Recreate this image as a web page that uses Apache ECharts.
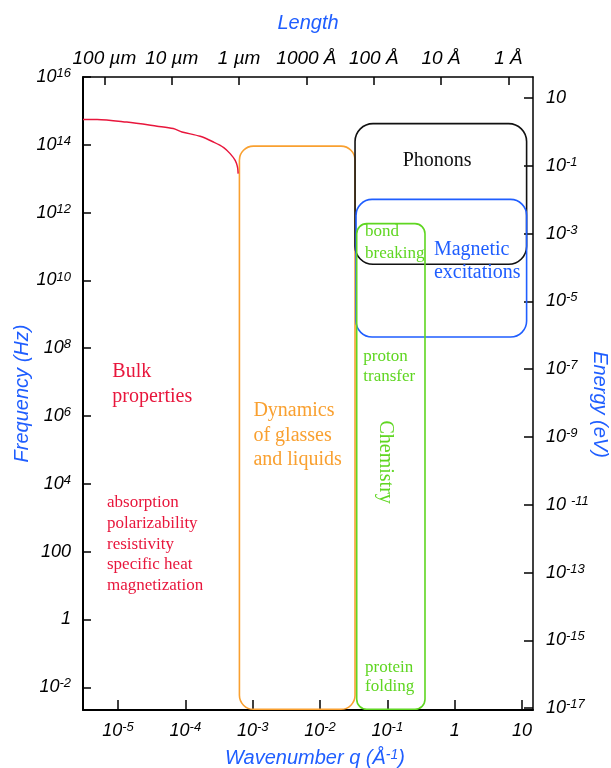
<!DOCTYPE html>
<html>
<head>
<meta charset="utf-8">
<script src="https://cdn.jsdelivr.net/npm/echarts@6/dist/echarts.min.js"></script>
<style>
  html, body { margin: 0; padding: 0; background: #fff; }
  #main { width: 611px; height: 768px; }
</style>
</head>
<body>
<div id="main"></div>
<script>
// all positions on the axes are log10 exponents
var H_EV = 4.135667e-15; // Planck constant, eV per Hz

// axis ranges (log10 q in 1/Å, log10 f in Hz)
var qRange = [-5.52, 1.163];
var fRange = [-2.67, 16];

// tick labels
var qTickExp = [-5, -4, -3, -2, -1, 0, 1];
var qTickLabels = ['10^-5', '10^-4', '10^-3', '10^-2', '10^-1', '1', '10'];
var lengthTickA = [1e6, 1e5, 1e4, 1000, 100, 10, 1];
var lengthTickLabels = ['100 µm', '10 µm', '1 µm', '1000 Å', '100 Å', '10 Å', '1 Å'];
var freqTickExp = [16, 14, 12, 10, 8, 6, 4, 2, 0, -2];
var freqTickLabels = ['10^16', '10^14', '10^12', '10^10', '10^8', '10^6', '10^4', '100', '1', '10^-2'];
var energyTickExp = [1, -1, -3, -5, -7, -9, -11, -13, -15, -17];
var energyTickLabels = ['10', '10^-1', '10^-3', '10^-5', '10^-7', '10^-9', '10 ^-11', '10^-13', '10^-15', '10^-17'];

// bulk properties curve
var bulkLogQ = [-5.52, -5.31, -4.87, -4.42, -4.18, -4.05, -3.78, -3.58, -3.43, -3.335, -3.26, -3.226, -3.216];
var bulkLogF = [14.75, 14.75, 14.67, 14.55, 14.48, 14.38, 14.25, 14.08, 13.92, 13.74, 13.54, 13.35, 13.15];

// regions (boxes)
var boxNames = ['Dynamics of glasses and liquids', 'Phonons', 'Magnetic excitations', 'Chemistry'];
var boxQLo = [-3.197, -1.48, -1.465, -1.455];
var boxQHi = [-1.48, 1.068, 1.068, -0.441];
var boxFLo = [-2.65, 10.475, 8.33, -2.65];
var boxFHi = [13.96, 14.625, 12.39, 11.675];

// annotations
var noteText = ['Bulk\nproperties', 'absorption\npolarizability\nresistivity\nspecific heat\nmagnetization',
  'Dynamics\nof glasses\nand liquids', 'Phonons', 'Magnetic\nexcitations', 'bond\nbreaking',
  'proton\ntransfer', 'Chemistry', 'protein\nfolding'];
var noteQ = [-5.085, -5.164, -2.989, -0.772, -0.308, -1.331, -1.357, -1.035, -1.331];
var noteF = [6.93, 2.224, 5.43, 13.54, 10.56, 11.13, 7.47, 4.64, -1.69];

// styles
var BLUE = '#1f5eff', RED = '#e8163c', ORANGE = '#f9a030', GREEN = '#5fd621', BLACK = '#111';
var boxColors = [ORANGE, BLACK, BLUE, GREEN];
var boxRadius = [14, 18, 16, 10];
var noteStyle = [
  { c: RED, fs: 20, lh: 25, align: 'left' },
  { c: RED, fs: 17, lh: 20.6, align: 'left' },
  { c: ORANGE, fs: 20, lh: 24.3, align: 'left' },
  { c: BLACK, fs: 20, lh: 24, align: 'left' },
  { c: BLUE, fs: 20, lh: 23.4, align: 'left' },
  { c: GREEN, fs: 17, lh: 22, align: 'left' },
  { c: GREEN, fs: 17, lh: 19.7, align: 'left' },
  { c: GREEN, fs: 20, lh: 24, align: 'center', rot: -Math.PI / 2 },
  { c: GREEN, fs: 17, lh: 19.3, align: 'left' }
];

var SANS = 'Liberation Sans';
var SERIF = 'Liberation Serif';

var topTickExp = lengthTickA.map(function (L) { return Math.log10(2 * Math.PI / L); });
var eRange = [fRange[0] + Math.log10(H_EV), fRange[1] + Math.log10(H_EV)];

function toRich(label) {
  var p = label.split('^');
  return p.length > 1 ? '{b|' + p[0] + '}{s|' + p[1] + '}' : '{b|' + p[0] + '}';
}
function pick(vals, labels, rich) {
  return function (v) {
    for (var i = 0; i < vals.length; i++) {
      if (Math.abs(vals[i] - v) < 1e-6) return rich ? toRich(labels[i]) : labels[i];
    }
    return '';
  };
}
var tickRich = {
  b: { fontFamily: SANS, fontStyle: 'italic', fontSize: 18, color: '#000', lineHeight: 20 },
  s: { fontFamily: SANS, fontStyle: 'italic', fontSize: 13, color: '#000', lineHeight: 14, verticalAlign: 'top' }
};
function nameStyle(pad) {
  return {
    fontFamily: SANS, fontStyle: 'italic', fontSize: 20, color: BLUE, padding: pad || 0,
    rich: {
      s: { fontFamily: SANS, fontStyle: 'italic', fontSize: 14, color: BLUE, verticalAlign: 'top', lineHeight: 14 }
    }
  };
}
var lineBlack = { color: '#000', width: 2 };

var myChart = echarts.init(document.getElementById('main'));

myChart.setOption({
  animation: false,
  grid: { left: 83, top: 77, right: 78, bottom: 58, outerBoundsMode: 'none' },
  xAxis: [
    {
      type: 'value', position: 'bottom', min: qRange[0], max: qRange[1],
      splitLine: { show: false },
      axisLine: { show: true, onZero: false, lineStyle: lineBlack },
      axisTick: { show: true, inside: true, length: 10, customValues: qTickExp, lineStyle: { color: '#000', width: 1.5 } },
      axisLabel: { customValues: qTickExp, margin: 11, formatter: pick(qTickExp, qTickLabels, true), rich: tickRich },
      name: 'Wavenumber q (Å{s|-1})', nameLocation: 'middle', nameGap: 38, nameMoveOverlap: false,
      nameTextStyle: nameStyle([0, 0, 0, 14])
    },
    {
      type: 'value', position: 'top', min: qRange[0], max: qRange[1],
      splitLine: { show: false },
      axisLine: { show: true, onZero: false, lineStyle: { color: '#000', width: 1.5 } },
      axisTick: { show: true, inside: true, length: 8, customValues: topTickExp, lineStyle: { color: '#000', width: 1.5 } },
      axisLabel: {
        customValues: topTickExp, margin: 9, formatter: pick(topTickExp, lengthTickLabels, false),
        fontFamily: SANS, fontStyle: 'italic', fontSize: 19, color: '#000'
      },
      name: 'Length', nameLocation: 'middle', nameGap: 44, nameMoveOverlap: false, nameTextStyle: nameStyle()
    }
  ],
  yAxis: [
    {
      type: 'value', position: 'left', min: fRange[0], max: fRange[1],
      splitLine: { show: false },
      axisLine: { show: true, onZero: false, lineStyle: lineBlack },
      axisTick: { show: true, inside: true, length: 8, customValues: freqTickExp, lineStyle: { color: '#000', width: 1.5 } },
      axisLabel: { customValues: freqTickExp, margin: 12, formatter: pick(freqTickExp, freqTickLabels, true), rich: tickRich },
      name: 'Frequency (Hz)', nameLocation: 'middle', nameGap: 51, nameMoveOverlap: false, nameTextStyle: nameStyle()
    },
    {
      type: 'value', position: 'right', min: eRange[0], max: eRange[1],
      splitLine: { show: false },
      axisLine: { show: true, onZero: false, lineStyle: { color: '#000', width: 1.5 } },
      axisTick: { show: true, inside: true, length: 9, customValues: energyTickExp, lineStyle: { color: '#000', width: 1.5 } },
      axisLabel: { customValues: energyTickExp, margin: 13, formatter: pick(energyTickExp, energyTickLabels, true), rich: tickRich },
      name: 'Energy (eV)', nameLocation: 'middle', nameGap: 57, nameRotate: -90, nameMoveOverlap: false,
      nameTextStyle: nameStyle([0, 0, 0, 22])
    }
  ],
  series: [
    {
      type: 'line', name: 'Bulk properties', xAxisIndex: 0, yAxisIndex: 0,
      data: bulkLogQ.map(function (q, i) { return [q, bulkLogF[i]]; }),
      smooth: 0.3, showSymbol: false, silent: true,
      lineStyle: { color: RED, width: 1.5 }
    },
    {
      type: 'custom', name: 'regions', xAxisIndex: 0, yAxisIndex: 0, silent: true,
      data: boxNames.map(function (n, i) { return [boxQLo[i], boxQHi[i], boxFLo[i], boxFHi[i], i]; }),
      renderItem: function (params, api) {
        var i = api.value(4);
        var p0 = api.coord([api.value(0), api.value(3)]);
        var p1 = api.coord([api.value(1), api.value(2)]);
        return {
          type: 'rect',
          shape: { x: p0[0], y: p0[1], width: p1[0] - p0[0], height: p1[1] - p0[1], r: boxRadius[i] },
          style: { fill: 'none', stroke: boxColors[i], lineWidth: 1.6 }
        };
      }
    },
    {
      type: 'custom', name: 'notes', xAxisIndex: 0, yAxisIndex: 0, silent: true,
      data: noteText.map(function (t, i) { return [noteQ[i], noteF[i], i]; }),
      renderItem: function (params, api) {
        var i = api.value(2);
        var st = noteStyle[i];
        var p = api.coord([api.value(0), api.value(1)]);
        return {
          type: 'text', x: p[0], y: p[1], rotation: st.rot || 0,
          style: {
            text: noteText[i], fill: st.c, fontFamily: SERIF, fontSize: st.fs,
            lineHeight: st.lh, align: st.align, verticalAlign: 'middle'
          }
        };
      }
    }
  ]
});
</script>
</body>
</html>
